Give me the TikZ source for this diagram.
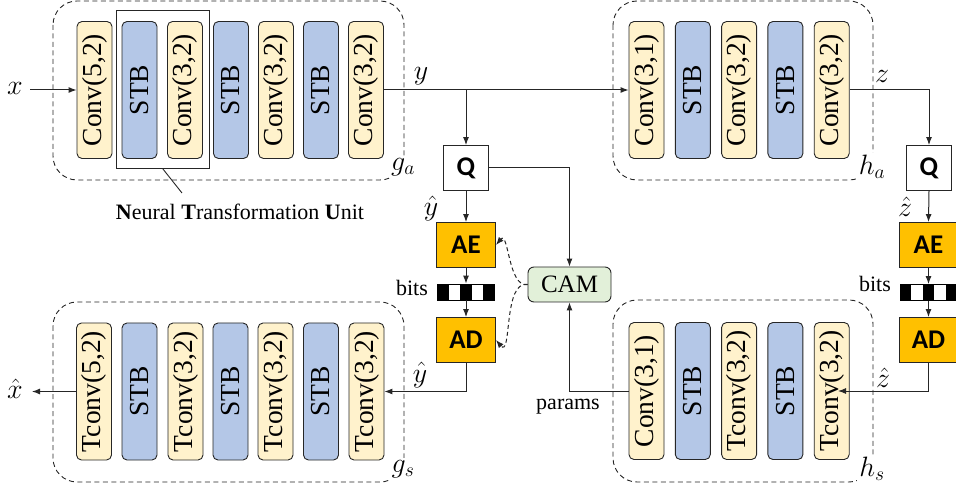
\RequirePackage{fix-cm}
\documentclass[tikz,border=0pt]{standalone}
\usepackage{fontspec}
\setmainfont{Liberation Serif}
\newfontfamily\boxsans{Carlito}
\usepackage{graphicx}
\usetikzlibrary{arrows.meta}
\definecolor{convfill}{HTML}{FFF2CC}
\definecolor{stbfill}{HTML}{B4C7E7}
\definecolor{codfill}{HTML}{FFC000}
\definecolor{camfill}{HTML}{E2F0D9}
\definecolor{edge}{HTML}{262626}
\tikzset{
  blk/.style={draw=edge, line width=0.9pt, rounded corners=5pt, minimum width=35pt,
    minimum height=137pt, inner sep=0pt, font=\fontsize{27.5}{27.5}\selectfont},
  convblk/.style={blk, fill=convfill},
  stbblk/.style={blk, fill=stbfill},
  grp/.style={draw=edge, line width=0.9pt, dash pattern=on 5pt off 3.5pt, rounded corners=24pt},
  codec/.style={draw=edge, line width=0.9pt, fill=codfill, minimum width=59pt,
    minimum height=45pt, inner sep=0pt, font=\boxsans\bfseries\fontsize{27}{27}\selectfont},
  qbox/.style={draw=edge, line width=0.9pt, fill=white, minimum width=45pt,
    minimum height=45pt, inner sep=0pt, font=\boxsans\bfseries\fontsize{27}{27}\selectfont},
  cambox/.style={draw=edge, line width=0.9pt, fill=camfill, rounded corners=6pt,
    minimum width=83pt, minimum height=35pt, inner sep=0pt, font=\fontsize{25}{25}\selectfont},
  bitsbar/.style={draw=black, line width=0.8pt, minimum width=57pt, minimum height=16pt, inner sep=0pt},
  conn/.style={draw=edge, line width=1pt, -{Latex[length=8pt,width=6pt]}},
  plainline/.style={draw=edge, line width=1pt},
  dconn/.style={draw=edge, line width=1pt, dash pattern=on 4pt off 3pt, -{Latex[length=8pt,width=6pt]}},
  lbl/.style={font=\fontsize{28}{28}\selectfont, inner sep=0pt},
  grplbl/.style={lbl, fill=white, inner sep=2.5pt},
  txt/.style={font=\fontsize{22}{22}\selectfont, inner sep=0pt},
}
\begin{document}
\begin{tikzpicture}[x=1pt,y=-1pt]
\useasboundingbox (0,0) rectangle (956,486);

% ---------- group frames ----------
\draw[grp] (53,1) rectangle (404,180);
\draw[grp] (613,1) rectangle (873,180);
\draw[grp] (53,302) rectangle (404,482);
\draw[grp] (613,300) rectangle (873,482);

% ---------- g_a ----------
\node[convblk] (a1) at (94.5,90) {\rotatebox{90}{Conv(5,2)}};
\node[stbblk]  (a2) at (139.5,90) {\rotatebox{90}{STB}};
\node[convblk] (a3) at (185,90) {\rotatebox{90}{Conv(3,2)}};
\node[stbblk]  (a4) at (231,90) {\rotatebox{90}{STB}};
\node[convblk] (a5) at (276,90) {\rotatebox{90}{Conv(3,2)}};
\node[stbblk]  (a6) at (321,90) {\rotatebox{90}{STB}};
\node[convblk] (a7) at (366,90) {\rotatebox{90}{Conv(3,2)}};

% ---------- h_a ----------
\node[convblk] (h1) at (646.5,90) {\rotatebox{90}{Conv(3,1)}};
\node[stbblk]  (h2) at (692.8,90) {\rotatebox{90}{STB}};
\node[convblk] (h3) at (739.1,90) {\rotatebox{90}{Conv(3,2)}};
\node[stbblk]  (h4) at (785.4,90) {\rotatebox{90}{STB}};
\node[convblk] (h5) at (831.7,90) {\rotatebox{90}{Conv(3,2)}};

% ---------- g_s ----------
\node[convblk] (s1) at (94,391.5) {\rotatebox{90}{Tconv(5,2)}};
\node[stbblk]  (s2) at (139.5,391.5) {\rotatebox{90}{STB}};
\node[convblk] (s3) at (185.5,391.5) {\rotatebox{90}{Tconv(3,2)}};
\node[stbblk]  (s4) at (230.5,391.5) {\rotatebox{90}{STB}};
\node[convblk] (s5) at (275.5,391.5) {\rotatebox{90}{Tconv(3,2)}};
\node[stbblk]  (s6) at (321,391.5) {\rotatebox{90}{STB}};
\node[convblk] (s7) at (366.5,391.5) {\rotatebox{90}{Tconv(3,2)}};

% ---------- h_s ----------
\node[convblk] (t1) at (646.5,391) {\rotatebox{90}{Conv(3,1)}};
\node[stbblk]  (t2) at (692.8,391) {\rotatebox{90}{STB}};
\node[convblk] (t3) at (739.1,391) {\rotatebox{90}{Tconv(3,2)}};
\node[stbblk]  (t4) at (785.4,391) {\rotatebox{90}{STB}};
\node[convblk] (t5) at (831.7,391) {\rotatebox{90}{Tconv(3,2)}};

% ---------- group labels ----------
\node[grplbl] (lga) at (403,167) {$g_a$};
\node[grplbl] (lha) at (872,167) {$h_a$};
\node[grplbl] (lgs) at (403,469) {$g_s$};
\node[grplbl] (lhs) at (872,469) {$h_s$};

% ---------- neural transformation unit ----------
\node[draw=edge, line width=0.9pt, minimum width=93pt, minimum height=158pt, inner sep=0pt] (ntu) at (162.5,89) {};
\node[txt] (ntulbl) at (240,212) {\textbf{N}eural \textbf{T}ransformation \textbf{U}nit};
\coordinate (ntuend) at (182,193);
\draw[plainline, line width=0.9pt] (ntu.south) -- (ntuend);

% ---------- left column (y) ----------
\node[qbox] (q1) at (466,168) {Q};
\node[codec] (ae1) at (466,245) {AE};
\node[bitsbar] (bb1) at (466,292) {};
\foreach \i in {0,2,4} \fill (437.5+\i*11.4,284) rectangle ++(11.4,16);
\node[codec] (ad1) at (466,340) {AD};
\node[cambox] (cam) at (569.5,284.5) {CAM};

% ---------- right column (z) ----------
\node[qbox] (q2) at (929,168) {Q};
\node[codec] (ae2) at (928.5,245) {AE};
\node[bitsbar] (bb2) at (928.5,292.5) {};
\foreach \i in {0,2,4} \fill (900+\i*11.4,284.5) rectangle ++(11.4,16);
\node[codec] (ad2) at (928.5,340) {AD};

% ---------- text labels ----------
\node[lbl] (lx) at (15,88) {$x$};
\node[lbl] (ly) at (421,76) {$y$};
\node[lbl] (lz) at (882,76) {$z$};
\node[lbl] (lyh1) at (431,209) {$\hat{y}$};
\node[lbl] (lzh1) at (905,207) {$\hat{z}$};
\node[lbl] (lyh2) at (420,375) {$\hat{y}$};
\node[lbl] (lzh2) at (883,378) {$\hat{z}$};
\node[lbl] (lxh) at (15,389) {$\hat{x}$};
\node[txt] (lbits1) at (412,288) {bits};
\node[txt] (lbits2) at (875,284) {bits};
\node[txt] (lparams) at (568,407) {params};

% ---------- connectors ----------
\coordinate (xin) at (30,90);
\coordinate (ybr) at (466,90);
\coordinate (xout) at (32,391.5);
\coordinate (zin) at (838,391);

\draw[conn] (xin) -- (a1.west);
\draw[conn] (a7.east) -- (h1.west);
\draw[conn] (ybr) -- (q1.north);
\draw[conn] (q1.east) -| (cam.north);
\draw[conn] (q1.south) -- (ae1.north);
\draw[conn] (ae1.south) -- (bb1.north);
\draw[conn] (bb1.south) -- (ad1.north);
\draw[conn] (ad1.south) |- (s7.east);
\draw[conn] (s1.west) -- (xout);
\draw[conn] (h5.east) -| (q2.north);
\draw[conn] (q2.south) -- (ae2.north);
\draw[conn] (ae2.south) -- (bb2.north);
\draw[conn] (bb2.south) -- (ad2.north);
\draw[conn] (ad2.south) |- (zin);
\draw[conn] (t1.west) -| (cam.south);

\draw[dconn] (cam.west) to[out=190,in=50] (ae1.east);
\draw[dconn] (cam.west) to[out=170,in=-50] (ad1.east);
\end{tikzpicture}
\end{document}
